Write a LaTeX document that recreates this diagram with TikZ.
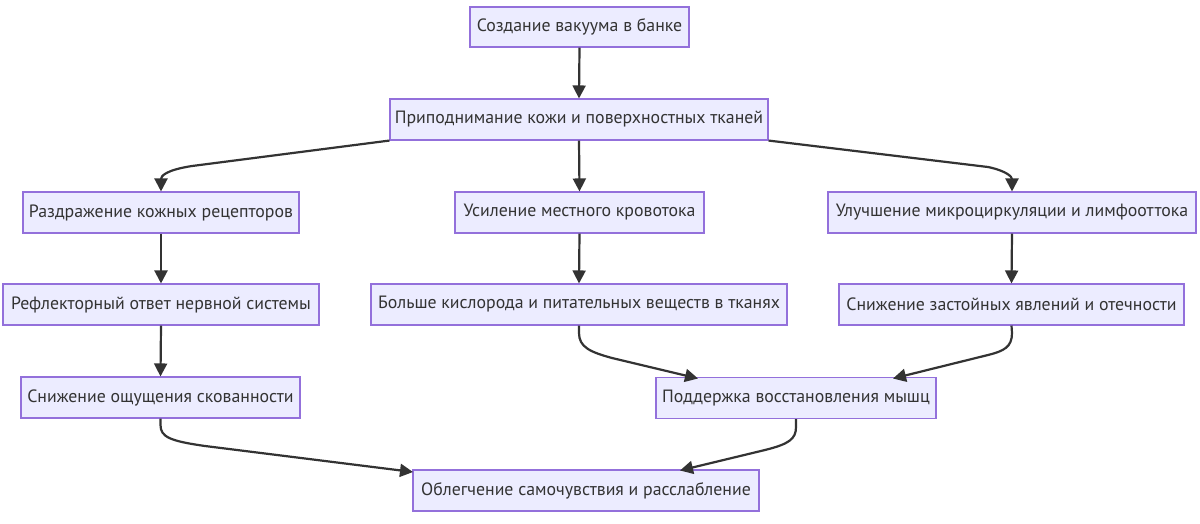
\documentclass[tikz,border=0pt]{standalone}
\usepackage{fontspec}
\setmainfont{PT Sans}
\usetikzlibrary{arrows.meta}
\definecolor{boxfill}{HTML}{ECECFF}
\definecolor{boxline}{HTML}{9370DB}
\definecolor{edge}{HTML}{333333}
\definecolor{txt}{HTML}{333333}
\tikzset{
  box/.style={draw=boxline, fill=boxfill, line width=1.1pt, inner sep=0pt,
    minimum height=41pt, text=txt, font=\fontsize{17.8}{20}\selectfont},
  conn/.style={draw=edge, line width=2.2pt, -{Triangle[length=13pt,width=13pt]}}
}
\begin{document}
\begin{tikzpicture}[x=1pt,y=-1pt]
\useasboundingbox[fill=white] (0,0) rectangle (1200,523);
\node[box, minimum width=219pt, minimum height=40pt] (n1) at (579.5,27) {Создание вакуума в банке};
\node[box, minimum width=378pt] (n2) at (579,119.5) {Приподнимание кожи и поверхностных тканей};
\node[box, minimum width=276pt] (n3) at (161,212.5) {Раздражение кожных рецепторов};
\node[box, minimum width=249pt] (n4) at (579.5,212.5) {Усиление местного кровотока};
\node[box, minimum width=368pt] (n5) at (1012,212.5) {Улучшение микроциркуляции и лимфооттока};
\node[box, minimum width=316pt] (n6) at (161,304.5) {Рефлекторный ответ нервной системы};
\node[box, minimum width=416pt] (n7) at (579,304.5) {Больше кислорода и питательных веществ в тканях};
\node[box, minimum width=345pt] (n8) at (1011.5,304.5) {Снижение застойных явлений и отечности};
\node[box, minimum width=279pt] (n9) at (160.5,397.5) {Снижение ощущения скованности};
\node[box, minimum width=280pt] (n10) at (796,398) {Поддержка восстановления мышц};
\node[box, minimum width=346pt] (n11) at (586,490.5) {Облегчение самочувствия и расслабление};

\draw[conn] (n1.south) -- (n2.north);
\draw[conn] (n2.south) -- (n4.north);
\draw[conn] (n3.south) -- (n6.north);
\draw[conn] (n6.south) -- (n9.north);
\draw[conn] (n5.south) -- (n8.north);
\draw[conn] (n4.south) -- (n7.north);

\draw[conn] (n2.south west) -- (192,166) .. controls (166,170) and (161,176) .. (n3.north);
\draw[conn] (n2.south east) -- (988,167) .. controls (1007,171) and (1012,177) .. (n5.north);

\draw[conn] (n7.south) -- (579,333) .. controls (579,347) and (590,352) .. (612,358) -- (698,378.5);
\draw[conn] (n8.south) -- (1012,333) .. controls (1012,347) and (1004,351) .. (988,355) -- (893,378.5);
\draw[conn] (n9.south) -- (160.5,425) .. controls (160.5,437) and (170,441) .. (205,446) -- (413,472);
\draw[conn] (n10.south) -- (796,427) .. controls (796,439) and (789,444) .. (765,450) -- (680,470.5);
\end{tikzpicture}
\end{document}
